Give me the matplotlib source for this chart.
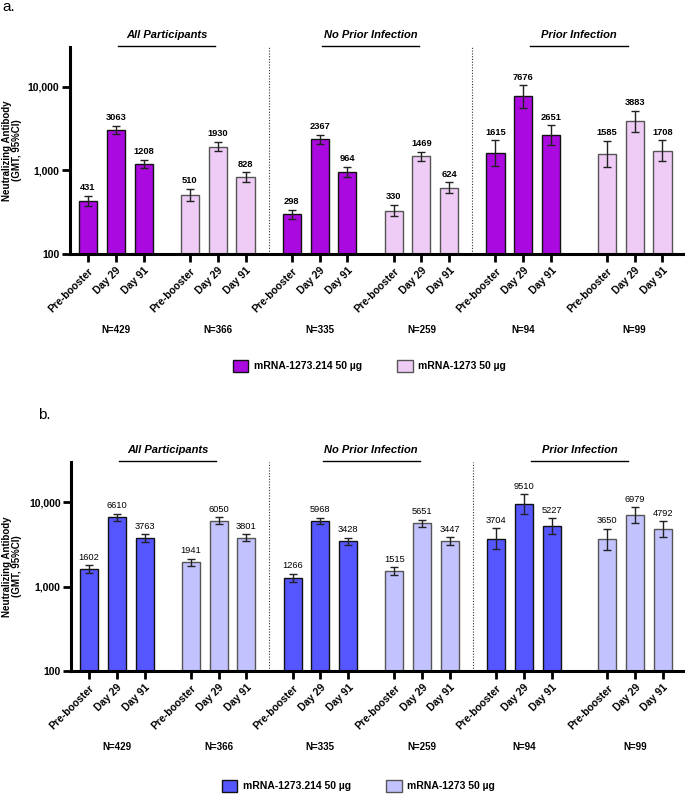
import numpy as np
import matplotlib.pyplot as plt
from matplotlib.patches import Patch

plt.rcParams['font.family'] = ['Liberation Sans', 'DejaVu Sans']

timepoints = ['Pre-booster', 'Day 29', 'Day 91']
subgroups = ['All Participants', 'No Prior Infection', 'Prior Infection']
vaccines = ['mRNA-1273.214 50 µg', 'mRNA-1273 50 µg']

# panel a - GMT e IC95% (ordem: 1273.214 / 1273 para cada subgrupo)
n_a = [429, 366, 335, 259, 94, 99]
gmt_a = [[431, 3063, 1208], [510, 1930, 828],
         [298, 2367, 964], [330, 1469, 624],
         [1615, 7676, 2651], [1585, 3883, 1708]]
lo_a = [[374, 2730, 1080], [436, 1700, 730],
        [262, 2090, 845], [284, 1290, 540],
        [1140, 5600, 2020], [1110, 2900, 1280]]
hi_a = [[497, 3440, 1350], [600, 2200, 950],
        [340, 2690, 1100], [390, 1680, 720],
        [2290, 10500, 3480], [2260, 5200, 2290]]

# panel b
n_b = [429, 366, 335, 259, 94, 99]
gmt_b = [[1602, 6610, 3763], [1941, 6050, 3801],
         [1266, 5968, 3428], [1515, 5651, 3447],
         [3704, 9510, 5227], [3650, 6979, 4792]]
lo_b = [[1450, 6000, 3420], [1750, 5500, 3450],
        [1140, 5450, 3100], [1360, 5150, 3100],
        [2800, 7300, 4250], [2750, 5650, 3900]]
hi_b = [[1800, 7300, 4150], [2150, 6650, 4200],
        [1420, 6550, 3800], [1690, 6200, 3850],
        [4900, 12400, 6450], [4850, 8700, 5950]]

group_starts = np.array([0, 3.66, 7.32, 10.98, 14.64, 18.64])


def draw_panel(ax, gmt, lo, hi, n, colors, edges, value_weight):
    gmt = np.array(gmt, dtype=float)
    lo = np.array(lo, dtype=float)
    hi = np.array(hi, dtype=float)
    xs = group_starts[:, None] + np.arange(3)
    for g in range(6):
        k = g % 2
        ax.bar(xs[g], gmt[g], width=0.65, bottom=0, color=colors[k],
               edgecolor=edges[k], linewidth=1.0, zorder=2)
        ax.errorbar(xs[g], gmt[g], yerr=[gmt[g] - lo[g], hi[g] - gmt[g]],
                    fmt='none', ecolor='#222222', elinewidth=1.0,
                    capsize=3.2, capthick=1.0, zorder=3)
        for x, v, h in zip(xs[g], gmt[g], hi[g]):
            ax.annotate(f'{int(v)}', (x, h), xytext=(0, 2.5),
                        textcoords='offset points', ha='center', va='bottom',
                        fontsize=6.7, fontweight=value_weight)
        ax.annotate(f'N={n[g]}', (xs[g][1], 0), xycoords=('data', 'axes fraction'),
                    xytext=(0, -55), textcoords='offset points',
                    ha='center', va='center', fontsize=7, fontweight='bold',
                    annotation_clip=False)

    # separadores pontilhados
    for i in range(2):
        xsep = (xs[2 * i + 1][-1] + xs[2 * i + 2][0]) / 2
        ax.axvline(xsep, color='#333333', linestyle=(0, (1, 1.5)),
                   linewidth=0.8, zorder=1)

    # titulos dos subgrupos
    for i, name in enumerate(subgroups):
        xc = (xs[2 * i][0] + xs[2 * i + 1][-1]) / 2
        ax.plot([xc - 1.75, xc + 1.75], [1.006, 1.006], color='black', lw=1.0,
                transform=ax.get_xaxis_transform(), clip_on=False)
        ax.annotate(name, (xc, 1.006), xycoords=('data', 'axes fraction'),
                    xytext=(0, 8), textcoords='offset points',
                    ha='center', va='center', fontsize=8,
                    fontweight='bold', fontstyle='italic', annotation_clip=False)

    ax.set_yscale('log')
    ax.set_ylim(100, 30000)
    ax.set_xlim(-0.65, 21.4)
    ax.set_yticks([100, 1000, 10000])
    ax.set_yticklabels(['100', '1,000', '10,000'])
    ax.minorticks_off()
    ax.set_xticks(xs.ravel())
    ax.set_xticklabels(timepoints * 6, rotation=45, ha='right',
                       rotation_mode='anchor')
    for lab in ax.get_xticklabels() + ax.get_yticklabels():
        lab.set_fontweight('bold')
        lab.set_fontsize(7.5)
    ax.tick_params(axis='both', length=5.5, width=2.0, pad=2)
    ax.tick_params(axis='x', pad=3)
    ax.spines['top'].set_visible(False)
    ax.spines['right'].set_visible(False)
    ax.spines['left'].set_linewidth(2.2)
    ax.spines['bottom'].set_linewidth(2.2)


fig = plt.figure(figsize=(6.85, 7.95), dpi=100)

ax_a = fig.add_axes([0.102, 0.6805, 0.896, 0.2604])
cols_a = ['#AA0AE0', '#EECCF5']
edges_a = ['#111111', '#555555']
draw_panel(ax_a, gmt_a, lo_a, hi_a, n_a, cols_a, edges_a, 'bold')

ax_b = fig.add_axes([0.1036, 0.156, 0.895, 0.2629])
cols_b = ['#5656FF', '#C2C2FF']
edges_b = ['#111111', '#555555']
draw_panel(ax_b, gmt_b, lo_b, hi_b, n_b, cols_b, edges_b, 'normal')

ylab = 'Neutralizing Antibody\n(GMT, 95%CI)'
fig.text(12 / 685, 0.8107, ylab, rotation=90, ha='center', va='center',
         multialignment='center', fontsize=7, fontweight='bold',
         linespacing=1.1)
fig.text(12 / 685, 0.2874, ylab, rotation=90, ha='center', va='center',
         multialignment='center', fontsize=7, fontweight='bold',
         linespacing=1.1)

fig.text(0.003, 1.0, 'a.', ha='left', va='top', fontsize=11)
fig.text(0.055, 0.487, 'b.', ha='left', va='top', fontsize=11)

# legendas
for cols, edges, yc, xc in [(cols_a, edges_a, 0.5396, 0.539),
                            (cols_b, edges_b, 0.0113, 0.523)]:
    handles = [Patch(facecolor=c, edgecolor=e, linewidth=1.0)
               for c, e in zip(cols, edges)]
    fig.legend(handles, vaccines, loc='center', bbox_to_anchor=(xc, yc),
               ncol=2, frameon=False, prop={'size': 7.5, 'weight': 'bold'},
               handlelength=1.5, handleheight=1.5, handletextpad=0.5,
               columnspacing=3.4, borderaxespad=0, borderpad=0)

fig.savefig('out.png', dpi=100)
